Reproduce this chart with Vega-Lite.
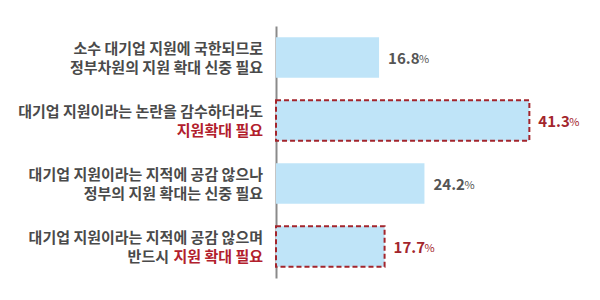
{
  "$schema": "https://vega.github.io/schema/vega-lite/v6.json",
  "autosize": {"type": "none"},
  "width": 319,
  "height": 252,
  "padding": {"left": 276, "top": 26, "right": 5, "bottom": 22},
  "background": "white",
  "config": {"view": {"stroke": null}, "font": "Noto Sans CJK KR"},
  "data": {"values": [
    {"k": "a", "v": 16.8, "l1": "소수 대기업 지원에 국한되므로", "l2": "정부차원의 지원 확대 신중 필요", "l2r": "", "l2pre": "", "hl": "n"},
    {"k": "b", "v": 41.3, "l1": "대기업 지원이라는 논란을 감수하더라도", "l2": "", "l2r": "지원확대 필요", "l2pre": "", "hl": "y"},
    {"k": "c", "v": 24.2, "l1": "대기업 지원이라는 지적에 공감 않으나", "l2": "정부의 지원 확대는 신중 필요", "l2r": "", "l2pre": "", "hl": "n"},
    {"k": "d", "v": 17.7, "l1": "대기업 지원이라는 지적에 공감 않으며", "l2": "", "l2r": "지원 확대 필요", "l2pre": "반드시", "hl": "y"}
  ]},
  "encoding": {
    "y": {"field": "k", "type": "nominal", "sort": null, "title": null,
      "scale": {"paddingInner": 0.36, "paddingOuter": 0.18},
      "axis": {"labels": false, "ticks": false, "domainColor": "#8a8a8a", "domainWidth": 2}}
  },
  "layer": [
    {
      "mark": {"type": "bar", "fill": "#bfe4f8", "strokeDash": [5, 3], "strokeWidth": 2},
      "encoding": {
        "x": {"field": "v", "type": "quantitative", "scale": {"domain": [0, 52], "nice": false, "zero": true}, "axis": null},
        "stroke": {"field": "hl", "type": "nominal", "scale": {"domain": ["y", "n"], "range": ["#a3252c", "transparent"]}, "legend": null}
      }
    },
    {
      "mark": {"type": "text", "align": "right", "baseline": "middle", "dx": -13, "dy": -9, "fontSize": 15, "fontWeight": "bold", "color": "#4a4a4a"},
      "encoding": {"x": {"datum": 0, "type": "quantitative"}, "text": {"field": "l1"}}
    },
    {
      "mark": {"type": "text", "align": "right", "baseline": "middle", "dx": -13, "dy": 10, "fontSize": 15, "fontWeight": "bold", "color": "#4a4a4a"},
      "encoding": {"x": {"datum": 0, "type": "quantitative"}, "text": {"field": "l2"}}
    },
    {
      "mark": {"type": "text", "align": "right", "baseline": "middle", "dx": -13, "dy": 10, "fontSize": 15, "fontWeight": "bold", "color": "#b2202c"},
      "encoding": {"x": {"datum": 0, "type": "quantitative"}, "text": {"field": "l2r"}}
    },
    {
      "mark": {"type": "text", "align": "right", "baseline": "middle", "dx": -107, "dy": 10, "fontSize": 15, "fontWeight": "bold", "color": "#4a4a4a"},
      "encoding": {"x": {"datum": 0, "type": "quantitative"}, "text": {"field": "l2pre"}}
    },
    {
      "mark": {"type": "text", "align": "left", "baseline": "middle", "dx": 9, "dy": 1, "fontSize": 15, "fontWeight": "bold"},
      "encoding": {
        "x": {"field": "v", "type": "quantitative"},
        "text": {"field": "v", "type": "quantitative", "format": ".1f"},
        "color": {"field": "hl", "type": "nominal", "scale": {"domain": ["y", "n"], "range": ["#a3252c", "#555555"]}, "legend": null}
      }
    },
    {
      "mark": {"type": "text", "align": "left", "baseline": "middle", "dx": 40, "dy": 2, "fontSize": 11},
      "encoding": {
        "x": {"field": "v", "type": "quantitative"},
        "text": {"value": "%"},
        "color": {"field": "hl", "type": "nominal", "scale": {"domain": ["y", "n"], "range": ["#c0555c", "#8a8a8a"]}, "legend": null}
      }
    }
  ]
}
